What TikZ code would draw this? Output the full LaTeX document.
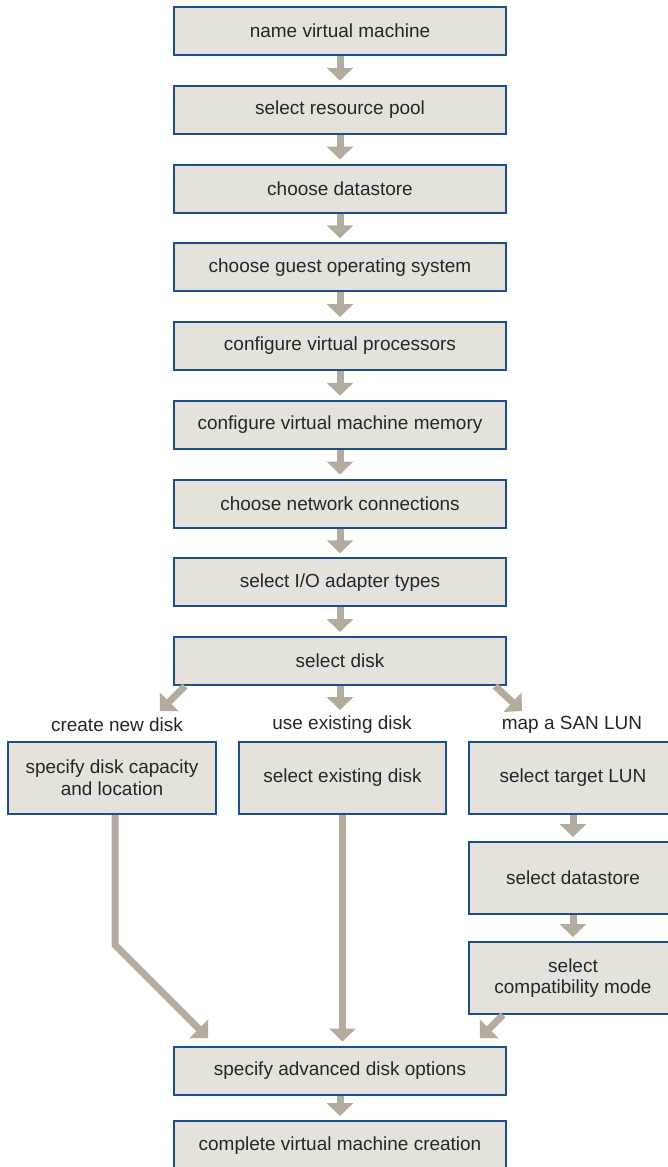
\documentclass[tikz,border=0pt]{standalone}
\usepackage{fontspec}
\setmainfont{Liberation Sans}
\usepackage{xcolor}
\usepackage{tikz}
\usetikzlibrary{arrows.meta}
\usetikzlibrary{positioning}
\usetikzlibrary{calc}
\definecolor{boxfill}{RGB}{230,226,219}
\definecolor{boxline}{RGB}{28,78,140}
\definecolor{arrowgray}{RGB}{178,171,158}
\definecolor{textgray}{RGB}{38,38,38}
\tikzstyle{stepbox}=[rectangle,draw=boxline,fill=boxfill,line width=0.04cm,minimum width=6.64cm,minimum height=0.96cm,inner sep=0pt,align=center,text=textgray,font=\fontsize{10.8}{12.4}\selectfont]
\tikzstyle{diskbox}=[stepbox,minimum width=4.16cm,minimum height=1.44cm]
\tikzstyle{choice}=[inner sep=0pt,text=textgray,font=\fontsize{10.8}{12.4}\selectfont]
\tikzstyle{flow}=[draw,arrowgray,line width=0.14cm,-{Triangle[width=0.52cm,length=0.26cm]}]
\tikzstyle{shortflow}=[flow,shorten >=0.08cm]

\begin{document}
\begin{tikzpicture}

  \def\dx{0};
  \def\dy{0};
  \def\u{0.02};

  \useasboundingbox (0,0) rectangle (668*\u,-1167*\u);

   \foreach \x/\y/\name/\label in {340/31/name/name virtual machine, 340/109.75/pool/select resource pool, 340/188.5/store/choose datastore, 340/267.25/guest/choose guest operating system}
          \node[stepbox] (\name) at (\x*\u+\dx, -\y*\u+\dy) {\label};

   \foreach \x/\y/\name/\label in {340/346/cpu/configure virtual processors, 340/424.75/mem/configure virtual machine memory, 340/503.5/net/choose network connections, 340/582.25/io/{select I/O adapter types}, 340/661/disk/select disk}
          \node[stepbox] (\name) at (\x*\u+\dx, -\y*\u+\dy) {\label};

   \foreach \x/\y/\name/\label in {117/725/lnew/create new disk, 342/725/lold/use existing disk, 572/725/llun/map a SAN LUN}
          \node[choice] (\name) at (\x*\u+\dx, -\y*\u+\dy) {\label};

   \foreach \x/\y/\name/\label in {112/778/newdisk/{specify disk capacity\\and location}, 342.5/778/olddisk/select existing disk, 573/778/lun/select target LUN, 573/878/lunstore/select datastore, 573/978/compat/{select\\compatibility mode}}
          \node[diskbox] (\name) at (\x*\u+\dx, -\y*\u+\dy) {\label};

   \node[stepbox] (adv) at (340*\u+\dx, -1070.5*\u+\dy) {specify advanced disk options};
   \node[stepbox, minimum height=1cm] (done) at (340*\u+\dx, -1146*\u+\dy) {complete virtual machine creation};

   % free ends of the slanted arrows
   \foreach \x/\y/\name in {160/711/newtip, 340/710/oldtip, 522/711/luntip, 115/945/newbend, 208/1038/advleft, 480/1038/advright}
          \coordinate (\name) at (\x*\u+\dx, -\y*\u+\dy);

  \foreach \source/ \dest in {name/pool, pool/store, store/guest, guest/cpu, cpu/mem, mem/net, net/io, io/disk, lun/lunstore, lunstore/compat, adv/done}
         \path[shortflow] (\source) -- (\dest);

  \path[flow] ([xshift=-155*\u cm]disk.south) -- (newtip);
  \path[flow] (disk.south) -- (oldtip);
  \path[flow] ([xshift=155*\u cm]disk.south) -- (luntip);

  \path[flow] (newdisk.south -| newbend) -- (newbend) -- (advleft);
  \path[shortflow] (olddisk.south) -- (olddisk.south |- adv.north);
  \path[flow] ([xshift=35*\u cm]compat.south west) -- (advright);

   \end{tikzpicture}
\end{document}
